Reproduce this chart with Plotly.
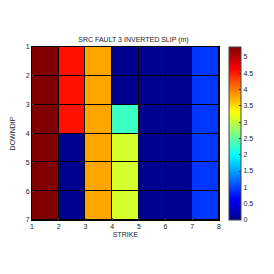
import plotly.graph_objects as go

strike_edges = [1, 2, 3, 4, 5, 6, 7, 8]
downdip_edges = [1, 2, 3, 4, 5, 6, 7]
slip = [
    [5.3, 4.55, 3.78, 0.0, 0.0, 0.0, 0.95],
    [5.3, 4.55, 3.78, 0.0, 0.0, 0.0, 0.95],
    [5.3, 4.55, 3.78, 2.3, 0.0, 0.0, 0.95],
    [5.3, 0.0, 3.78, 3.08, 0.0, 0.0, 0.95],
    [5.3, 0.0, 3.78, 3.08, 0.0, 0.0, 0.95],
    [5.3, 0.0, 3.78, 3.08, 0.0, 0.0, 0.95],
]
cbar_ticks = [0, 0.5, 1, 1.5, 2, 2.5, 3, 3.5, 4, 4.5, 5]

jet = [[0, '#000090'], [0.125, '#0000FF'], [0.375, '#00FFFF'],
       [0.625, '#FFFF00'], [0.875, '#FF0000'], [1, '#800000']]

FONT = "Liberation Sans, Arial, sans-serif"

fig = go.Figure(go.Heatmap(
    x=strike_edges, y=downdip_edges, z=slip,
    colorscale=jet, zmin=0, zmax=5.3,
    xgap=1, ygap=1,
    colorbar=dict(
        x=1.053, xanchor='left', y=0, yanchor='bottom', len=1,
        xpad=0, ypad=0,
        thickness=12, outlinecolor='#444', outlinewidth=1,
        tickvals=cbar_ticks, ticktext=[f"{t:g}" for t in cbar_ticks],
        ticks='inside', ticklen=2, tickcolor='#333',
        tickfont=dict(size=7, family=FONT, color='#222'),
    ),
))

fig.update_layout(
    width=274, height=274,
    margin=dict(l=24, r=63, t=39, b=62, pad=0, autoexpand=False),
    paper_bgcolor='white', plot_bgcolor='black',
    title=dict(text="SRC FAULT 3 INVERTED SLIP (m)", x=0.458, xanchor='center',
               y=1 - 32 / 274, yanchor='middle',
               font=dict(size=7, family=FONT, color='#222')),
    font=dict(family=FONT, size=7, color='#222'),
    showlegend=False,
)
fig.update_xaxes(
    range=[1, 8], tickvals=strike_edges, ticks='inside', ticklen=2,
    showgrid=False, zeroline=False, showline=True, linecolor='black', mirror=True,
    automargin=False,
    tickfont=dict(size=7, family=FONT, color='#222'),
    title=dict(text="STRIKE", font=dict(size=7, family=FONT, color='#222'), standoff=2),
)
fig.update_yaxes(
    range=[7, 1], tickvals=downdip_edges, ticks='inside', ticklen=2,
    showgrid=False, zeroline=False, showline=True, linecolor='black', mirror=True,
    automargin=False,
    tickfont=dict(size=7, family=FONT, color='#222'),
    title=dict(text="DOWNDIP", font=dict(size=7, family=FONT, color='#222'), standoff=9),
)

fig.write_html("out.html")
